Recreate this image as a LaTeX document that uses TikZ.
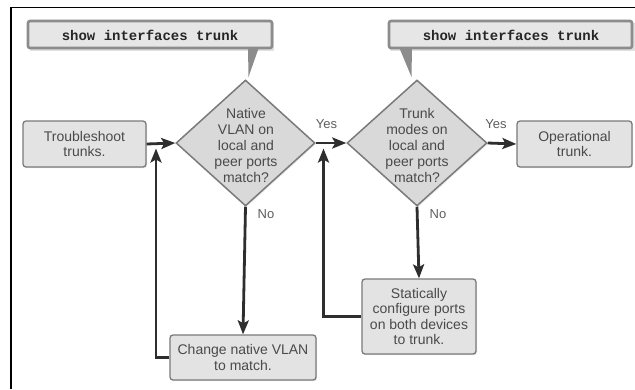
\documentclass[tikz,border=0pt]{standalone}
\usepackage{fontspec}
\setmainfont{Liberation Sans}
\newfontfamily\cmono{Liberation Mono}
\usetikzlibrary{shapes.geometric,arrows.meta,shadows}
\definecolor{boxfill}{HTML}{E3E3E3}
\definecolor{boxline}{HTML}{7A7A7A}
\definecolor{diafill}{HTML}{D9D9D9}
\definecolor{txtgray}{HTML}{4A4A4A}
\definecolor{lblgray}{HTML}{5E5E5E}
\definecolor{arrcol}{HTML}{2E2E2E}
\definecolor{callfill}{HTML}{E6E6E6}
\definecolor{callline}{HTML}{8C8C8C}
\tikzset{
  boxnode/.style={draw=boxline, fill=boxfill, line width=1.3pt, rounded corners=3pt,
    align=center, text=txtgray, inner sep=0pt,
    font=\fontsize{14}{15.5}\selectfont,
    drop shadow={shadow xshift=1.2pt, shadow yshift=-1.2pt, fill=black!18}},
  dianode/.style={diamond, draw=boxline, fill=diafill, line width=1.5pt, inner sep=0pt,
    drop shadow={shadow xshift=1.2pt, shadow yshift=-1.2pt, fill=black!15}},
  dtext/.style={align=center, text=txtgray, font=\fontsize{14}{16}\selectfont, inner sep=0pt},
  lbl/.style={text=lblgray, font=\fontsize{13}{15}\selectfont, inner sep=0pt},
  arr/.style={draw=arrcol, line width=2.8pt, -{Stealth[length=14pt,width=11pt,inset=3pt]}},
  feed/.style={draw=arrcol, line width=2.8pt, -{Stealth[length=14pt,width=11pt,inset=3pt]}},
  calltext/.style={font=\cmono\bfseries\fontsize{14}{16}\selectfont, text=black!85, inner sep=0pt},
}
\begin{document}
\begin{tikzpicture}[x=1pt,y=-1pt]
\useasboundingbox (0,0) rectangle (635,389);
\fill[white] (0,0) rectangle (635,389);
% frame
\draw[black, line width=1.3pt] (11,389) -- (11,7.5) -- (635,7.5);

% callout 1
\fill[black!12] (30,23) rectangle (274,51);
\fill[callline] (248,47) -- (259,47) -- (248.5,77) -- cycle;
\draw[callline, fill=callfill, line width=2.6pt, rounded corners=2pt] (28,21) rectangle (272,48);
\node[calltext] (c1) at (150,35) {show interfaces trunk};

% callout 2
\fill[black!12] (390,23) rectangle (635,51);
\fill[callline] (399,47) -- (412,47) -- (411.5,77) -- cycle;
\draw[callline, fill=callfill, line width=2.6pt, rounded corners=2pt] (389,21) rectangle (632,48);
\node[calltext] (c2) at (511,35) {show interfaces trunk};

% boxes
\node[boxnode, minimum width=123pt, minimum height=46pt] (tb) at (84.5,144) {Troubleshoot\\trunks.};
\node[boxnode, minimum width=115pt, minimum height=46pt] (op) at (574.5,144) {Operational\\trunk.};
\node[boxnode, minimum width=146pt, minimum height=45pt] (ch) at (243,357.5) {Change native VLAN\\to match.};
\node[boxnode, minimum width=114pt, minimum height=75pt] (st) at (419,316.5) {Statically\\configure ports\\on both devices\\to trunk.};

% diamonds
\node[dianode, minimum width=139pt, minimum height=126pt] (d1) at (245.5,143) {};
\node[dtext] (d1t) at (246,145) {Native\\VLAN on\\local and\\peer ports\\match?};
\node[dianode, minimum width=140pt, minimum height=126pt] (d2) at (417,143) {};
\node[dtext] (d2t) at (417,145) {Trunk\\modes on\\local and\\peer ports\\match?};

% labels
\node[lbl] (y1) at (326.5,124) {Yes};
\node[lbl] (y2) at (496,124) {Yes};
\node[lbl] (n1) at (266,214) {No};
\node[lbl] (n2) at (438,214) {No};

% connectors
\draw[arr] (tb.east) -- (d1.west);
\draw[arr] (d1.east) -- (d2.west);
\draw[arr] (d2.east) -- (op.west);
\draw[arr] (d1.south) -- (ch.north);
\draw[arr] (d2.south) -- (st.north);
\coordinate (f1) at (156,148.5);
\coordinate (f2) at (323.5,148.5);
\draw[feed] (ch.west) -| (f1);
\draw[feed] (st.west) -| (f2);
\end{tikzpicture}
\end{document}
